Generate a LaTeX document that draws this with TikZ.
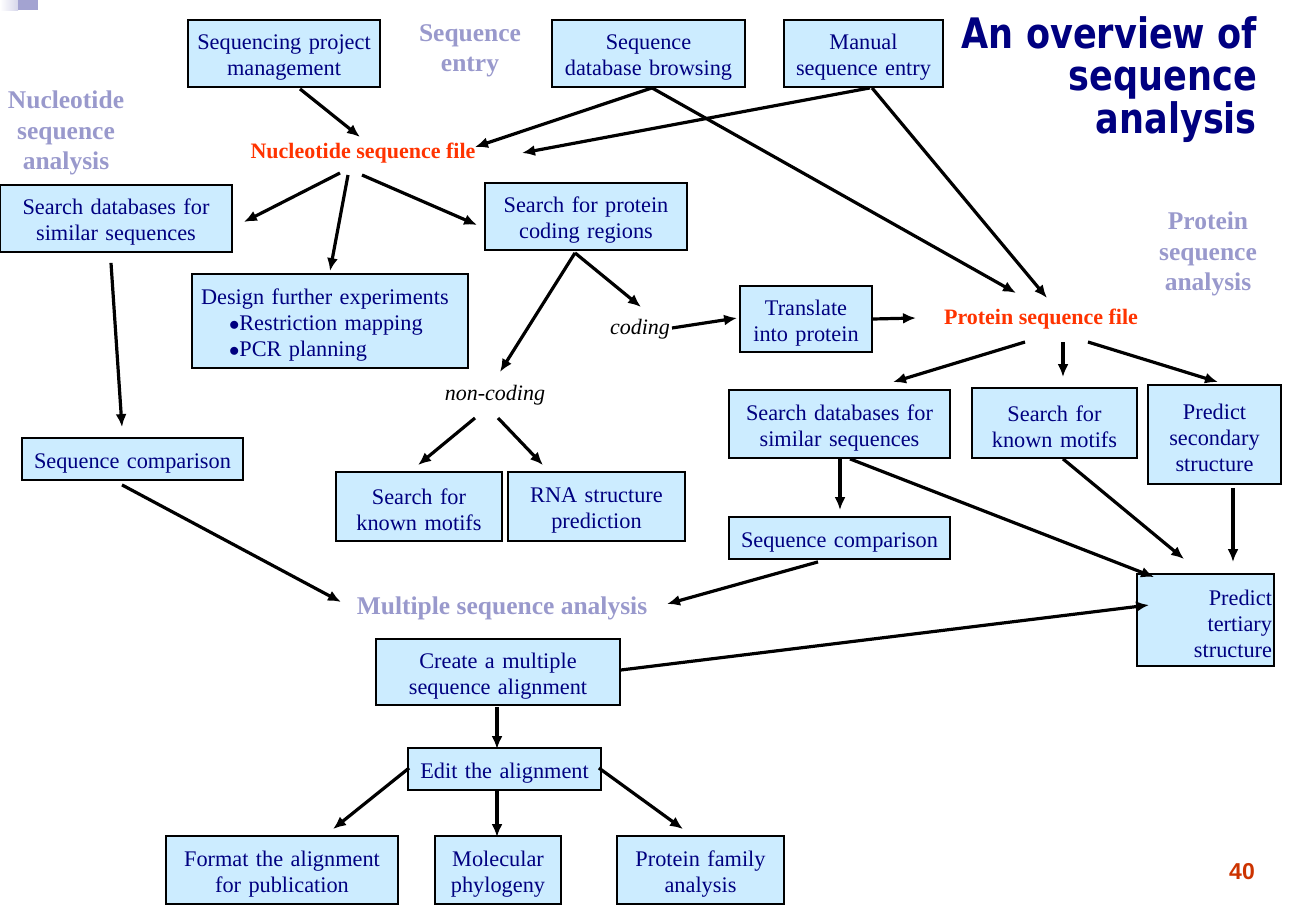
\documentclass[tikz,border=0pt]{standalone}
\usepackage{fontspec}
\setmainfont{Liberation Serif}
\newfontfamily\titlefont[FakeStretch=0.835]{DejaVu Sans}
\newfontfamily\numfont{Liberation Sans}
\usetikzlibrary{calc,arrows.meta}
\definecolor{boxfill}{HTML}{CCECFF}
\definecolor{navy}{HTML}{000080}
\definecolor{lav}{HTML}{9999CC}
\definecolor{fileorange}{HTML}{FF3300}
\definecolor{pagenum}{HTML}{CC3300}
\tikzset{
  box/.style={draw=black, line width=1.8pt, fill=boxfill, text=navy, inner sep=2pt,
    font=\fontsize{22.3}{26}\selectfont, align=center,
    execute at begin node={\rule{0pt}{23pt}}},
  lavlabel/.style={text=lav, font=\fontsize{25.5}{30.5}\selectfont\bfseries, align=center, inner sep=0pt},
  filelabel/.style={text=fileorange, font=\fontsize{22}{26}\selectfont\bfseries, inner sep=0pt},
  itlabel/.style={text=black, font=\fontsize{22}{26}\selectfont\itshape, inner sep=0pt},
  arr/.style={line width=3.2pt, -{Latex[length=13pt,width=11pt]}},
}
\begin{document}
\begin{tikzpicture}[x=1pt,y=-1pt]
\useasboundingbox (0,0) rectangle (1291,908);
% corner decoration
\shade[left color=white, right color=lav!40] (0,0) rectangle (18,10);
\fill[lav!90] (18,0) rectangle (38,10);

% title
\node[anchor=north east, text=navy, align=right, inner sep=0pt,
  font=\titlefont\fontsize{42}{42.5}\selectfont\bfseries] (title) at (1257,16)
  {An overview of\\sequence\\analysis};

% section labels
\node[lavlabel] (seqentry) at (470,51) {Sequence\\entry};
\node[lavlabel] (nucana) at (66,133) {Nucleotide\\sequence\\analysis};
\node[lavlabel] (protana) at (1208,254) {Protein\\sequence\\analysis};
\node[lavlabel] (msa) at (502,608) {Multiple sequence analysis};

% file labels
\node[filelabel] (nsf) at (363,153) {Nucleotide sequence file};
\node[filelabel] (psf) at (1041,319) {Protein sequence file};
\node[itlabel] (coding) at (640,329) {coding};
\node[itlabel] (noncoding) at (495,395) {non-coding};

% boxes
\node[box, minimum width=192pt, text width=184pt, minimum height=67pt] (b1) at (284,53.5) {Sequencing project\\management};
\node[box, minimum width=193pt, text width=185pt, minimum height=67pt] (b2) at (648.5,53.5) {Sequence\\database browsing};
\node[box, minimum width=159pt, text width=151pt, minimum height=67pt] (b3) at (863.5,53.5) {Manual\\sequence entry};
\node[box, minimum width=232pt, text width=224pt, minimum height=67pt] (b4) at (116,218.5) {Search databases for\\similar sequences};
\node[box, minimum width=202pt, text width=194pt, minimum height=67pt] (b5) at (586,216.5) {Search for protein\\coding regions};
\node[box, minimum width=276pt, minimum height=94pt, align=left, text width=258pt] (b6) at (330,321)
  {Design further experiments\\\hspace*{28pt}$\bullet$Restriction mapping\\\hspace*{28pt}$\bullet$PCR planning};
\node[box, minimum width=132pt, text width=126pt, minimum height=66pt] (b7) at (806,319) {Translate\\into protein};
\node[box, minimum width=221pt, text width=213pt, minimum height=68pt] (b8) at (839.5,424) {Search databases for\\similar sequences};
\node[box, minimum width=165pt, text width=157pt, minimum height=70pt] (b9) at (1054.5,423) {Search for\\known motifs};
\node[box, minimum width=133pt, text width=127pt, minimum height=99pt] (b10) at (1214.5,434.5) {Predict\\secondary\\structure};
\node[box, minimum width=221pt, text width=213pt, minimum height=42pt] (b11) at (132.5,459) {Sequence comparison};
\node[box, minimum width=166pt, text width=158pt, minimum height=69pt] (b12) at (419,506.5) {Search for\\known motifs};
\node[box, minimum width=177pt, text width=169pt, minimum height=69pt] (b13) at (596.5,506.5) {RNA structure\\prediction};
\node[box, minimum width=221pt, text width=213pt, minimum height=42pt] (b14) at (839.5,538) {Sequence comparison};
\node[box, minimum width=137pt, minimum height=92pt, align=right, text width=133pt, inner sep=1pt,
  execute at begin node={}] (b15) at (1205.5,620) {Predict\\tertiary\\structure};
\node[box, minimum width=244pt, text width=236pt, minimum height=66pt] (b16) at (498,672) {Create a multiple\\sequence alignment};
\node[box, minimum width=193pt, text width=185pt, minimum height=42pt] (b17) at (504.5,769) {Edit the alignment};
\node[box, minimum width=232pt, text width=224pt, minimum height=68pt] (b18) at (282,870) {Format the alignment\\for publication};
\node[box, minimum width=126pt, text width=120pt, minimum height=68pt] (b19) at (498,870) {Molecular\\phylogeny};
\node[box, minimum width=167pt, text width=159pt, minimum height=68pt] (b20) at (700.5,870) {Protein family\\analysis};

% page number
\node[text=pagenum, font=\numfont\fontsize{23}{23}\selectfont\bfseries, inner sep=0pt] (pnum) at (1242,872) {40};

% connectors
\draw[arr] ($(b1.south)+(16,1)$) -- ($(nsf.center)+(-3,-16)$);
\draw[arr] ($(b2.south)+(3.5,0)$) -- ($(nsf.center)+(112,-6)$);
\draw[arr] ($(b3.south)+(6.5,0)$) -- ($(nsf.center)+(159,0)$);
\draw[arr] ($(b2.south)+(3.5,0)$) -- ($(psf.center)+(-25,-26)$);
\draw[arr] ($(b3.south)+(8.5,0)$) -- ($(psf.center)+(6,-21)$);
\draw[arr] ($(nsf.center)+(-23,20)$) -- ($(b4.east)+(11,3.5)$);
\draw[arr] ($(nsf.center)+(-15,22)$) -- ($(b6.north)+(0,-2)$);
\draw[arr] ($(nsf.center)+(-1,22)$) -- ($(b5.west)+(-7,8.5)$);
\draw[arr] ($(b5.south)+(-11,2)$) -- ($(coding.center)+(1,-22)$);
\draw[arr] ($(b5.south)+(-11,2)$) -- ($(noncoding.center)+(5,-23)$);
\draw[arr] ($(coding.center)+(32,-1)$) -- ($(b7.west)+(-2,-1)$);
\draw[arr] (b7.east) -- ($(psf.center)+(-125,-1)$);
\draw[arr] ($(psf.center)+(-16,23)$) -- ($(b8.north)+(53.5,-7)$);
\draw[arr] ($(psf.center)+(22,23)$) -- ($(b9.north)+(8.5,-10)$);
\draw[arr] ($(psf.center)+(47,23)$) -- ($(b10.north)+(3.5,-2)$);
\draw[arr] ($(b4.south)+(-5,10)$) -- ($(b11.north)+(-10.5,-10)$);
\draw[arr] ($(noncoding.center)+(-20,23)$) -- ($(b12.north)+(-1,-6)$);
\draw[arr] ($(noncoding.center)+(3,23)$) -- ($(b13.north)+(-53.5,-6)$);
\draw[arr] ($(b11.south)+(-10.5,4)$) -- ($(msa.center)+(-161,-6)$);
\draw[arr] ($(b8.south)+(0.5,0)$) -- ($(b14.north)+(0.5,-6)$);
\draw[arr] ($(b8.south)+(10.5,0)$) -- ($(b15.north west)+(18,4)$);
\draw[arr] ($(b9.south)+(8.5,0)$) -- ($(b15.north west)+(48,-14)$);
\draw[arr] ($(b10.south)+(18.5,3)$) -- ($(b15.north)+(27.5,-11)$);
\draw[arr] ($(b14.south)+(-21.5,2)$) -- ($(msa.center)+(165,-4)$);
\draw[arr] ($(b16.east)+(0,-2)$) -- ($(b15.west)+(13,-15)$);
\draw[arr] ($(b16.south)+(-1,1)$) -- ($(b17.north)+(-7.5,2)$);
\draw[arr] ($(b17.west)+(2,-1)$) -- ($(b18.north)+(51,-6)$);
\draw[arr] ($(b17.south)+(-7.5,0)$) -- ($(b19.north)+(-1,2)$);
\draw[arr] ($(b17.east)+(-3,-1)$) -- ($(b20.north)+(-17.5,-6)$);
\end{tikzpicture}
\end{document}
